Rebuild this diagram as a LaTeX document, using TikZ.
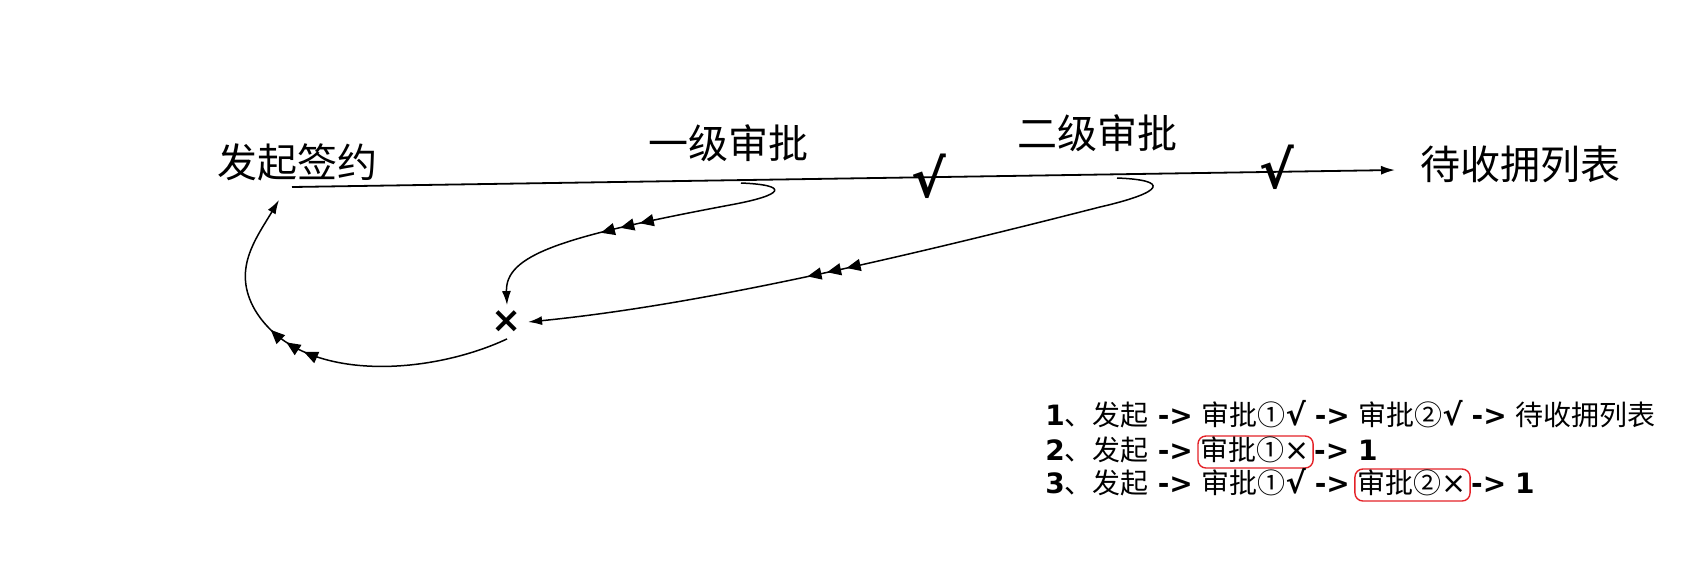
\documentclass[tikz,border=0pt]{standalone}
\usepackage{fontspec}
\setmainfont{DejaVu Sans}
\newfontfamily\cjk{Noto Sans CJK SC}
\usepackage{xcolor}
\usepackage{tikz}
\usetikzlibrary{positioning}
\usetikzlibrary{arrows.meta}
\usetikzlibrary{decorations.markings}
\definecolor{boxred}{RGB}{228,34,40}
\newcommand{\zh}[1]{{\cjk #1}}
\newcommand{\ok}{{\bfseries\fontsize{15}{17}\selectfont √}}
\tikzstyle{stage}=[font=\cjk\fontsize{20}{24}\selectfont,inner sep=0pt]
\tikzstyle{okmark}=[font=\bfseries\fontsize{26}{28}\selectfont,inner sep=0pt]
\tikzstyle{nomark}=[font=\bfseries\fontsize{18}{20}\selectfont,inner sep=0pt,outer sep=3pt]
\tikzstyle{mainline} = [draw,line width=0.9pt,-{Latex[length=7pt,width=4.5pt]}]
\tikzstyle{backline} = [draw,line width=0.75pt,-{Latex[length=7pt,width=4.5pt]}]
\tikzstyle{txt} = [font=\fontsize{14}{17}\selectfont,inner sep=0pt,anchor=base west]
\tikzstyle{redbox} = [draw=boxred,line width=0.7pt,rounded corners=4pt,inner xsep=1.5pt,inner ysep=0pt,text height=12pt,text depth=4pt,anchor=base west]
\tikzset{ticks/.style 2 args={postaction={decorate},
  decoration={markings,mark=between positions #1 and #2 step 10pt with {\arrow{Triangle[length=7pt,width=6pt]}}}}}

\begin{document}
\begin{tikzpicture}[x=0.5pt,y=-0.5pt]
    \useasboundingbox (0,0) rectangle (1696,564);
    % stages along the main line
    \foreach \pos/\name/\label in {{(297,162)/start/发起签约}, {(728,143)/one/一级审批},
    {(1097,133)/two/二级审批}, {(1520,164)/done/待收拥列表}}
        \node[stage] (\name) at \pos {\label};
    \node[okmark] (ok1) at (929,176) {√};
    \node[okmark] (ok2) at (1277,167) {√};
    \node[nomark] (no) at (507,322) {×};

    % main line
    \coordinate (s0) at (292,187);
    \coordinate (s1) at (1395,170);
    \path[mainline] (s0) -- (s1);

    % rejected paths
    \coordinate (h1) at (741,183);
    \coordinate (h2) at (1117,178);
    \coordinate (back) at (279,200);
    \path[backline,ticks={0.51}{0.65}] (h1) .. controls (790,185) and (785,195) .. (730,205)
        .. controls (560,237) and (505,255) .. (no.north);
    \path[backline,ticks={0.525}{0.585}] (h2) .. controls (1170,180) and (1165,192) .. (1100,207)
        .. controls (900,258) and (700,305) .. (no.east);
    \path[backline,ticks={0.53}{0.64}] (no.south) .. controls (430,375) and (300,385) .. (255,310)
        .. controls (232,270) and (255,240) .. (back);

    % legend
    \node[txt] (l1) at (1045,425) {\textbf{1}\zh{、发起} \textbf{->} \zh{审批①}\ok{} \textbf{->} \zh{审批②}\ok{} \textbf{->} \zh{待收拥列表}};
    \node[txt] (l2a) at (1045,460) {\textbf{2}\zh{、发起} \textbf{->}};
    \node[txt,redbox] (l2b) at ([xshift=2]l2a.base east) {\zh{审批①}{\fontsize{15}{17}\selectfont ×}};
    \node[txt] (l2c) at (l2b.base east) {\textbf{->} \textbf{1}};
    \node[txt] (l3a) at (1045,493) {\textbf{3}\zh{、发起} \textbf{->} \zh{审批①}\ok{} \textbf{->}};
    \node[txt,redbox] (l3b) at ([xshift=2]l3a.base east) {\zh{审批②}{\fontsize{15}{17}\selectfont ×}};
    \node[txt] (l3c) at (l3b.base east) {\textbf{->} \textbf{1}};
\end{tikzpicture}
\end{document}
